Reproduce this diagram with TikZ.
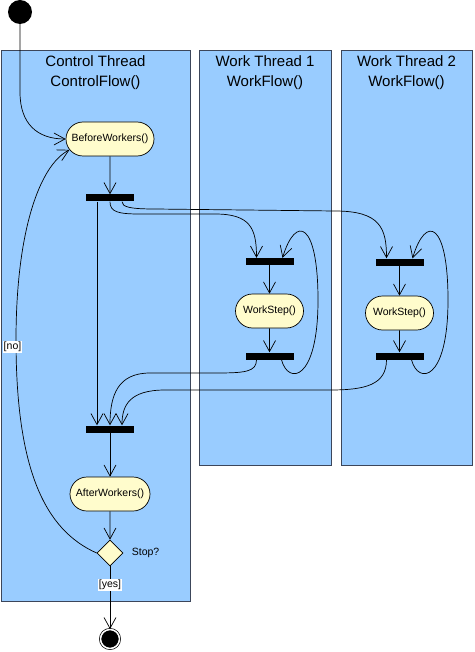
\documentclass[tikz,border=0pt]{standalone}
\usepackage{fontspec}
\setmainfont{Liberation Sans}
\usetikzlibrary{arrows.meta,shapes.geometric,shapes.misc}
\definecolor{lanefill}{RGB}{153,204,255}
\definecolor{laneline}{RGB}{60,70,90}
\definecolor{actfill}{RGB}{255,252,204}

\begin{document}
\begin{tikzpicture}[
            x=1pt,
            y=-1pt,
            lane/.style={
                draw=laneline,
                fill=lanefill,
                line width=0.8pt,
                inner sep=0pt
            },
            title/.style={
                align=center,
                font=\fontsize{15}{20}\selectfont
            },
            act/.style={
                rounded rectangle,
                draw,
                fill=actfill,
                line width=0.7pt,
                minimum height=34pt,
                inner sep=2pt,
                font=\fontsize{10.5}{12}\selectfont
            },
            bar/.style={
                fill=black,
                minimum width=48pt,
                minimum height=7pt,
                inner sep=0pt
            },
            decision/.style={
                diamond,
                draw,
                fill=actfill,
                line width=0.7pt,
                minimum width=26pt,
                minimum height=26pt,
                inner sep=0pt
            },
            startdot/.style={
                circle,
                fill=black,
                minimum size=24pt,
                inner sep=0pt
            },
            enddot/.style={
                circle,
                draw,
                fill=black,
                double=white,
                double distance=1.5pt,
                line width=0.7pt,
                minimum size=19pt,
                inner sep=0pt
            },
            lbl/.style={
                fill=white,
                inner sep=1pt,
                font=\fontsize{10.5}{12}\selectfont
            },
            flow/.style={
                line width=0.7pt,
                -{Straight Barb[length=11pt,width=12pt]}
            }
        ]
            \path[use as bounding box, fill=white] (0,0) rectangle (474,652);

            \node[lane, minimum width=189pt, minimum height=551pt] (ctrl) at (95.5,325.5) {};
            \node[lane, minimum width=132pt, minimum height=415pt] (work1) at (265,257.5) {};
            \node[lane, minimum width=131pt, minimum height=415pt] (work2) at (406.5,257.5) {};
            \node[title] (ctrltitle) at (95.5,73) {Control Thread\\ControlFlow()};
            \node[title] (work1title) at (265,73) {Work Thread 1\\WorkFlow()};
            \node[title] (work2title) at (406.5,73) {Work Thread 2\\WorkFlow()};

            \node[startdot] (start) at (20,12) {};
            \node[act, minimum width=92pt] (before) at (110,139) {BeforeWorkers()};
            \node[bar] (fork) at (110,198) {};
            \node[bar] (wfork1) at (269.5,261.5) {};
            \node[act, minimum width=72pt] (step1) at (269.5,311) {WorkStep()};
            \node[bar] (wjoin1) at (269.5,356) {};
            \node[bar] (wfork2) at (399.5,262) {};
            \node[act, minimum width=72pt] (step2) at (399.5,313) {WorkStep()};
            \node[bar] (wjoin2) at (399.5,356) {};
            \node[bar] (join) at (110,429) {};
            \node[act, minimum width=84pt] (after) at (110,494) {AfterWorkers()};
            \node[decision] (dec) at (110,553) {};
            \node[anchor=west, font=\fontsize{10.5}{12}\selectfont] (stopq) at ([xshift=5pt]dec.east) {Stop?};
            \node[enddot] (fin) at (110,639) {};

            \draw[flow] (start.south) -- ++(0,68) .. controls +(0,32) and +(-28,0) .. (before.west);
            \draw[flow] (before) -- (fork);
            \draw[flow] ([xshift=-13pt]fork.south) -- ([xshift=-13pt]join.north);
            \draw[flow] (fork.south) .. controls (110,212) and (118,214) .. (140,214) -- (215,214) .. controls (250,214) and (256.5,228) .. ([xshift=-13pt]wfork1.north);
            \draw[flow] ([xshift=12pt]fork.south) .. controls (122,207) and (130,209) .. (155,209) -- (335,211) .. controls (380,211) and (386.5,228) .. ([xshift=-13pt]wfork2.north);

            \draw[flow] (wfork1) -- (step1);
            \draw[flow] (step1) -- (wjoin1);
            \draw[flow] ([xshift=12pt]wjoin1.south) .. controls (288,385) and (318,382) .. (318,300) .. controls (318,222) and (296,214) .. ([xshift=13pt]wfork1.north);
            \draw[flow] (wfork2) -- (step2);
            \draw[flow] (step2) -- (wjoin2);
            \draw[flow] ([xshift=12pt]wjoin2.south) .. controls (418,385) and (448,382) .. (448,300) .. controls (448,222) and (426,214) .. ([xshift=13pt]wfork2.north);

            \draw[flow] ([xshift=-13pt]wjoin1.south) .. controls (256.5,372) and (245,373) .. (215,373) -- (150,373) .. controls (118,373) and (110,395) .. (join.north);
            \draw[flow] ([xshift=-13pt]wjoin2.south) .. controls (386.5,385) and (365,390) .. (330,390) -- (165,390) .. controls (130,390) and (122,405) .. ([xshift=12pt]join.north);

            \draw[flow] (join) -- (after);
            \draw[flow] (after) -- (dec);
            \draw[flow] (dec) -- node[lbl, pos=0.3] {[yes]} (fin);
            \draw[flow] (dec.west) .. controls (45,530) and (16,470) .. (16,340) .. controls (16,230) and (40,165) .. (before.195);
            \node[lbl] (no) at (12.5,347) {[no]};
        \end{tikzpicture}
\end{document}
